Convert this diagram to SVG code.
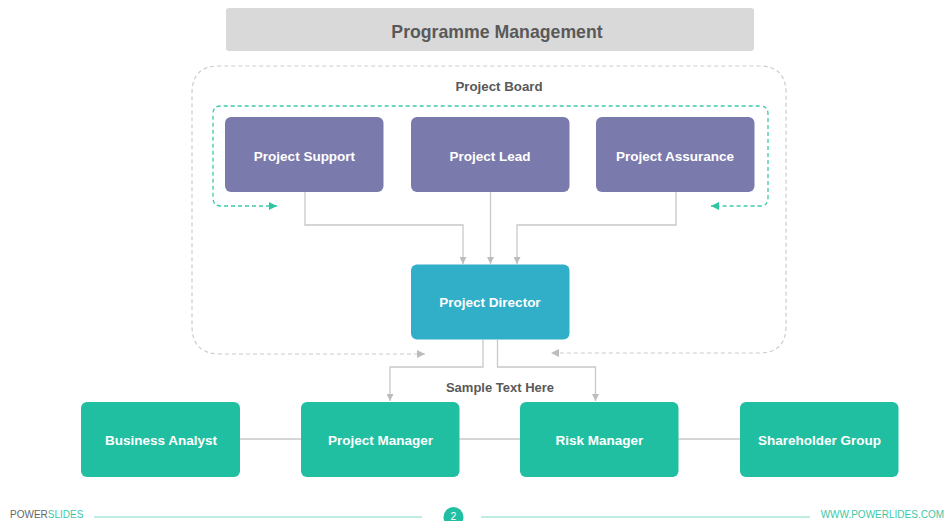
<svg xmlns="http://www.w3.org/2000/svg" width="949" height="521" viewBox="0 0 949 521">
<defs>
<style>
.t{font-family:"Liberation Sans",Arial,sans-serif;font-weight:bold;text-anchor:middle}
.wt{fill:#ffffff;font-size:13.5px}
.purple{fill:#7b7aac}
.blue{fill:#31aec8}
.green{fill:#20bfa1}
.conn{fill:none;stroke:#c8c8c8;stroke-width:1.3}
.gdash{fill:none;stroke:#cccccc;stroke-width:1.2;stroke-dasharray:4 3}
.tdash{fill:none;stroke:#3ccaa9;stroke-width:1.3;stroke-dasharray:4 3}
.ft{font-family:"Liberation Sans",Arial,sans-serif;font-size:10px}
</style>
<marker id="ag" viewBox="0 0 10 10" refX="10" refY="5" markerWidth="7" markerHeight="7" markerUnits="userSpaceOnUse" orient="auto-start-reverse"><path d="M0,0 L10,5 L0,10 z" fill="#bdbdbd"/></marker>
<marker id="at" viewBox="0 0 10 10" refX="10" refY="5" markerWidth="8" markerHeight="8" markerUnits="userSpaceOnUse" orient="auto-start-reverse"><path d="M0,0 L10,5 L0,10 z" fill="#2fc4a2"/></marker>
<marker id="ad" viewBox="0 0 10 10" refX="10" refY="5" markerWidth="8" markerHeight="8" markerUnits="userSpaceOnUse" orient="auto-start-reverse"><path d="M0,0 L10,5 L0,10 z" fill="#bdbdbd"/></marker>
</defs>
<rect width="949" height="521" fill="#ffffff"/>

<g id="title">
<rect x="226" y="8" width="528" height="43" rx="3" fill="#d9d9d9"/>
<text class="t" x="497" y="37.5" font-size="17.7" fill="#595959">Programme Management</text>
</g>

<g id="project-board-frame">
<path class="gdash" marker-start="url(#ad)" marker-end="url(#ad)" d="M425,354 H220 Q192,354 192,326 V93 Q192,66 219,66 H759 Q786,66 786,93 V326 Q786,353 759,353 H551"/>
<text class="t" x="499" y="91" font-size="13.3" fill="#595959">Project Board</text>
</g>

<g id="board-loop">
<path class="tdash" marker-start="url(#at)" marker-end="url(#at)" d="M277,206 H221 Q213,206 213,198 V114 Q213,106 221,106 H760 Q768,106 768,114 V198 Q768,206 760,206 H711"/>
</g>

<g id="connectors">
<path class="conn" marker-end="url(#ag)" d="M305,192 V225 H463 V264"/>
<path class="conn" marker-end="url(#ag)" d="M490.5,192 V264"/>
<path class="conn" marker-end="url(#ag)" d="M676,192 V225 H517 V264"/>
<path class="conn" marker-end="url(#ag)" d="M483,340 V367 H390 V401"/>
<path class="conn" marker-end="url(#ag)" d="M497.5,340 V367 H595.5 V401"/>
<path class="conn" d="M240,439 H301"/>
<path class="conn" d="M459,439 H520"/>
<path class="conn" d="M678,439 H740"/>
</g>
<text class="t" x="500" y="391.5" font-size="13" fill="#595959">Sample Text Here</text>

<g id="project-support">
<rect class="purple" x="225" y="117" width="158.5" height="75" rx="6"/>
<text class="t wt" x="304.5" y="160.5">Project Support</text>
</g>
<g id="project-lead">
<rect class="purple" x="411" y="117" width="158.5" height="75" rx="6"/>
<text class="t wt" x="490" y="160.5">Project Lead</text>
</g>
<g id="project-assurance">
<rect class="purple" x="596" y="117" width="158.5" height="75" rx="6"/>
<text class="t wt" x="675" y="160.5">Project Assurance</text>
</g>

<g id="project-director">
<rect class="blue" x="411" y="264.5" width="158.5" height="75" rx="6"/>
<text class="t wt" x="490" y="306.5">Project Director</text>
</g>

<g id="business-analyst">
<rect class="green" x="81" y="402" width="159" height="75" rx="6"/>
<text class="t wt" x="161" y="445">Business Analyst</text>
</g>
<g id="project-manager">
<rect class="green" x="301" y="402" width="158.5" height="75" rx="6"/>
<text class="t wt" x="380.5" y="445">Project Manager</text>
</g>
<g id="risk-manager">
<rect class="green" x="520" y="402" width="158.5" height="75" rx="6"/>
<text class="t wt" x="599.5" y="445">Risk Manager</text>
</g>
<g id="shareholder-group">
<rect class="green" x="740" y="402" width="158.5" height="75" rx="6"/>
<text class="t wt" x="819.5" y="445">Shareholder Group</text>
</g>

<g id="footer">
<text class="ft" x="10" y="518"><tspan fill="#666666">POWER</tspan><tspan fill="#3cc8a8">SLIDES</tspan></text>
<line x1="94" y1="517" x2="422" y2="517" stroke="#7ddcc6" stroke-width="1.2"/>
<line x1="481" y1="517" x2="810" y2="517" stroke="#7ddcc6" stroke-width="1.2"/>
<circle cx="453.5" cy="517" r="10" fill="#20bfa1"/>
<text x="453.5" y="520" font-family="'Liberation Sans',Arial,sans-serif" font-size="10.5" fill="#ffffff" text-anchor="middle">2</text>
<text class="ft" x="944" y="518" fill="#3cc8a8" font-size="9.6" text-anchor="end">WWW.POWERLIDES.COM</text>
</g>
</svg>
